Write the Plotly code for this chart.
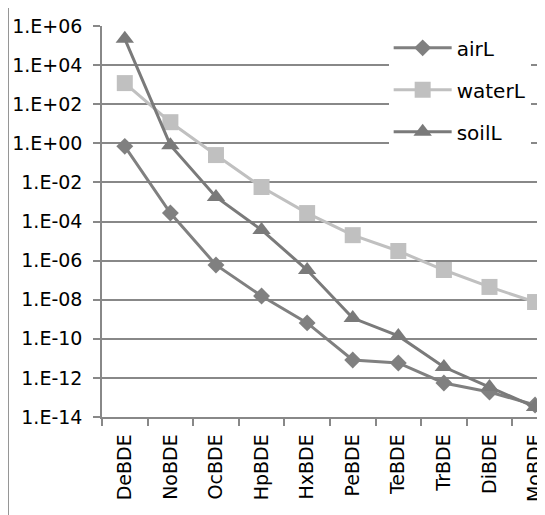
import plotly.graph_objects as go

categories = ["DeBDE", "NoBDE", "OcBDE", "HpBDE", "HxBDE", "PeBDE", "TeBDE", "TrBDE", "DiBDE", "MoBDE"]
airL = [7e-1, 2.7e-4, 6.0e-7, 1.55e-8, 6.5e-10, 8.3e-12, 5.8e-12, 5.5e-13, 1.9e-13, 4.1e-14]
waterL = [1.2e3, 1.2e1, 2.5e-1, 5.8e-3, 2.7e-4, 2.0e-5, 3.1e-6, 3.3e-7, 4.5e-8, 7.6e-9]
soilL = [2.2e5, 8.0e-1, 1.8e-3, 3.7e-5, 3.3e-7, 1.15e-9, 1.4e-10, 3.6e-12, 3.4e-13, 3.2e-14]
y_tickvals = [1e-14, 1e-12, 1e-10, 1e-8, 1e-6, 1e-4, 1e-2, 1e0, 1e2, 1e4, 1e6]
y_ticktext = ["1.E-14", "1.E-12", "1.E-10", "1.E-08", "1.E-06", "1.E-04", "1.E-02", "1.E+00", "1.E+02", "1.E+04", "1.E+06"]

FONT = "DejaVu Sans"
fig = go.Figure()
fig.add_trace(go.Scatter(x=categories, y=airL, name="airL", mode="lines+markers", legendgroup="a",
                         line=dict(color="#808080", width=3),
                         marker=dict(symbol="diamond", size=13, color="#808080")))
fig.add_trace(go.Scatter(x=categories, y=waterL, name="waterL", mode="lines+markers", legendgroup="b",
                         line=dict(color="#c0c0c0", width=3),
                         marker=dict(symbol="square", size=16, color="#c0c0c0")))
fig.add_trace(go.Scatter(x=categories, y=soilL, name="soilL", mode="lines+markers", legendgroup="c",
                         line=dict(color="#7a7a7a", width=3),
                         marker=dict(symbol="triangle-up", size=16, color="#7a7a7a")))

fig.update_layout(
    width=537, height=507,
    margin=dict(l=94, r=0, t=18, b=98),
    paper_bgcolor="white", plot_bgcolor="white",
    font=dict(family=FONT, size=19, color="black"),
    legend=dict(x=0.653, xanchor="left", y=0.994, yanchor="top",
                bgcolor="white", traceorder="grouped", tracegroupgap=13,
                itemwidth=58, font=dict(family=FONT, size=20)),
    xaxis=dict(type="category", range=[-0.5, 9.13], tickson="boundaries",
               ticks="outside", ticklen=7, tickcolor="#888888", tickwidth=1.5,
               showline=True, linecolor="#888888", linewidth=1.5, ticklabelstandoff=8,
               showgrid=False, tickangle=-90, zeroline=False),
    yaxis=dict(type="log", range=[-14, 6], tickvals=y_tickvals, ticktext=y_ticktext,
               ticks="outside", ticklen=7, tickcolor="#888888", tickwidth=1.5,
               showline=True, linecolor="#888888", linewidth=1.5, ticklabelstandoff=7,
               showgrid=True, gridcolor="#888888", gridwidth=1.5, zeroline=False),
    shapes=[dict(type="rect", xref="paper", yref="paper", x0=-0.2144, y0=-0.5, x1=1.2, y1=1.0563,
                 line=dict(color="#888888", width=2), fillcolor="rgba(0,0,0,0)", layer="below")],
)
fig.write_html("out.html")
